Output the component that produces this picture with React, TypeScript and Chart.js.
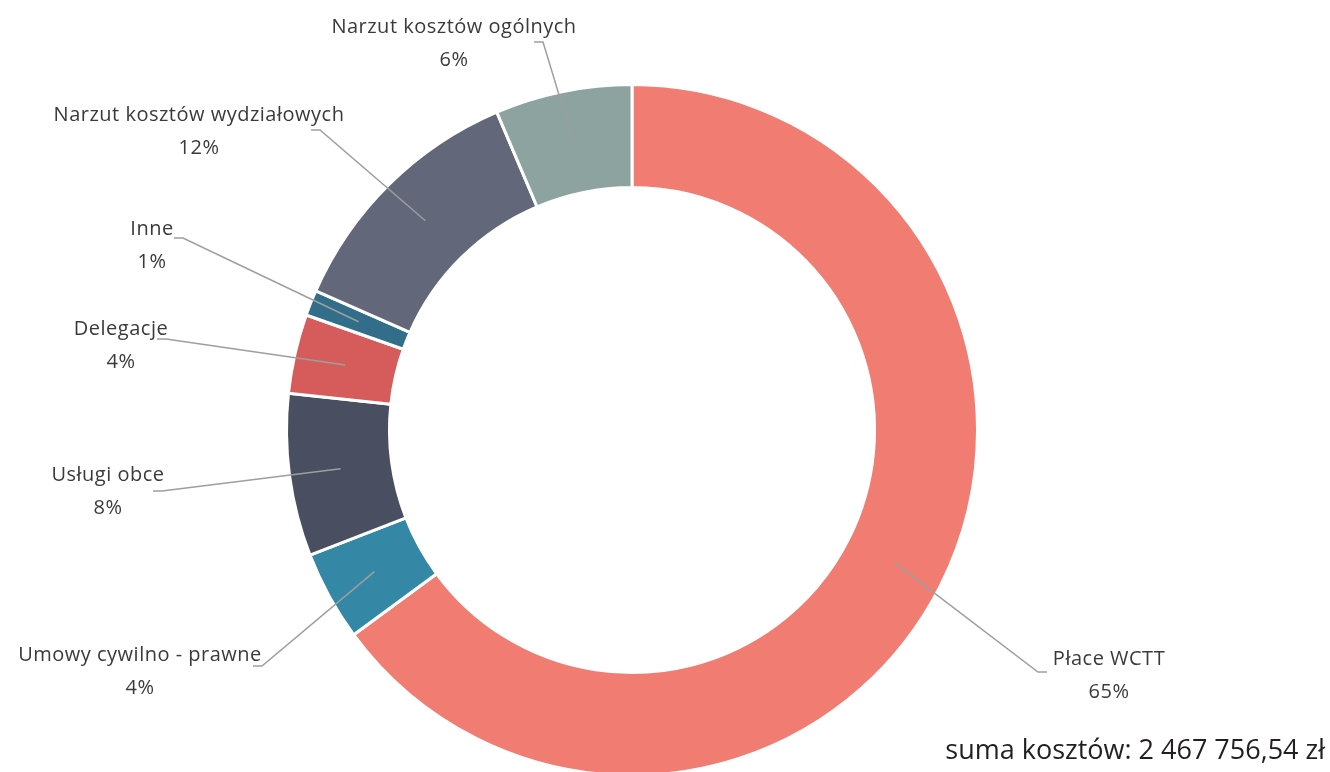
import React, { useEffect, useRef } from 'react';
import { Chart, registerables } from 'chart.js';

Chart.register(...registerables);

// ---- data ----
const categories = [
  'Płace WCTT',
  'Umowy cywilno - prawne',
  'Usługi obce',
  'Delegacje',
  'Inne',
  'Narzut kosztów wydziałowych',
  'Narzut kosztów ogólnych',
];
const shares = [64.9, 4.2, 7.6, 3.7, 1.2, 12.0, 6.4];
const sliceColors = ['#F07C72', '#3588A5', '#4A4E61', '#D65C5C', '#326E89', '#63677A', '#8DA39F'];
const totalLabel = 'suma kosztów: 2 467 756,54 zł';

// ---- label layout (relative to the chart centre) ----
// tx/ty: text block centre; ex/ey: leader-line elbow; dir: side of the stub
const labelLayout = [
  { tx: 477, ty: 244, ex: 406, ey: 242, dir: 1 },
  { tx: -492, ty: 240, ex: -370, ey: 236, dir: -1 },
  { tx: -524, ty: 60, ex: -470, ey: 61, dir: -1 },
  { tx: -511, ty: -86, ex: -466, ey: -91, dir: -1 },
  { tx: -480, ty: -186, ex: -449, ey: -192, dir: -1 },
  { tx: -433, ty: -300, ex: -312, ey: -300, dir: -1 },
  { tx: -178, ty: -388, ex: -89, ey: -388, dir: -1 },
];

const LABEL_FONT = '20px "Open Sans", "Noto Sans", sans-serif';
const TOTAL_FONT = '27px "Open Sans", "Noto Sans", sans-serif';

const labelPlugin = {
  id: 'outerLabels',
  afterDraw(chart: any) {
    const ctx = chart.ctx as CanvasRenderingContext2D;
    const meta = chart.getDatasetMeta(0);
    const data = chart.data.datasets[0].data as number[];
    const total = data.reduce((a, b) => a + b, 0);
    ctx.save();
    meta.data.forEach((arc: any, i: number) => {
      const p = arc.getProps(['x', 'y', 'startAngle', 'endAngle', 'innerRadius', 'outerRadius'], true);
      const mid = (p.startAngle + p.endAngle) / 2;
      const r = (p.innerRadius + p.outerRadius) / 2;
      const ax = p.x + Math.cos(mid) * r;
      const ay = p.y + Math.sin(mid) * r;
      const L = labelLayout[i];
      const exx = p.x + L.ex;
      const eyy = p.y + L.ey;
      ctx.strokeStyle = '#9E9E9E';
      ctx.lineWidth = 1.5;
      ctx.beginPath();
      ctx.moveTo(ax, ay);
      ctx.lineTo(exx, eyy);
      ctx.lineTo(exx + L.dir * 9, eyy);
      ctx.stroke();

      ctx.fillStyle = '#3A3A3A';
      ctx.font = LABEL_FONT;
      (ctx as any).letterSpacing = '0.5px';
      ctx.textAlign = 'center';
      ctx.textBaseline = 'middle';
      ctx.fillText(categories[i], p.x + L.tx, p.y + L.ty - 15);
      ctx.fillText(Math.round((data[i] / total) * 100) + '%', p.x + L.tx, p.y + L.ty + 18);
    });
    (ctx as any).letterSpacing = '0px';
    ctx.fillStyle = '#231F20';
    ctx.font = TOTAL_FONT;
    ctx.textAlign = 'right';
    ctx.textBaseline = 'middle';
    ctx.fillText(totalLabel, 1325, 751);
    ctx.restore();
  },
};

export default function App() {
  const ref = useRef<HTMLCanvasElement | null>(null);
  useEffect(() => {
    if (!ref.current) return;
    const chart = new Chart(ref.current, {
      type: 'doughnut',
      data: {
        labels: categories,
        datasets: [
          {
            data: shares,
            backgroundColor: sliceColors,
            borderColor: '#FFFFFF',
            borderWidth: 3,
          },
        ],
      },
      options: {
        animation: false,
        responsive: true,
        maintainAspectRatio: false,
        cutout: '70.2%',
        layout: { padding: { left: 285, right: 351, top: 83, bottom: 83 } },
        plugins: {
          legend: { display: false },
          tooltip: { enabled: false },
        },
      },
      plugins: [labelPlugin],
    });
    return () => chart.destroy();
  }, []);
  return (
    <div style={{ position: 'fixed', left: 0, top: 0, width: 1330, height: 772, overflow: 'hidden', background: '#fff' }}>
      <div style={{ position: 'relative', width: 1330, height: 860 }}>
        <canvas ref={ref} />
      </div>
    </div>
  );
}
